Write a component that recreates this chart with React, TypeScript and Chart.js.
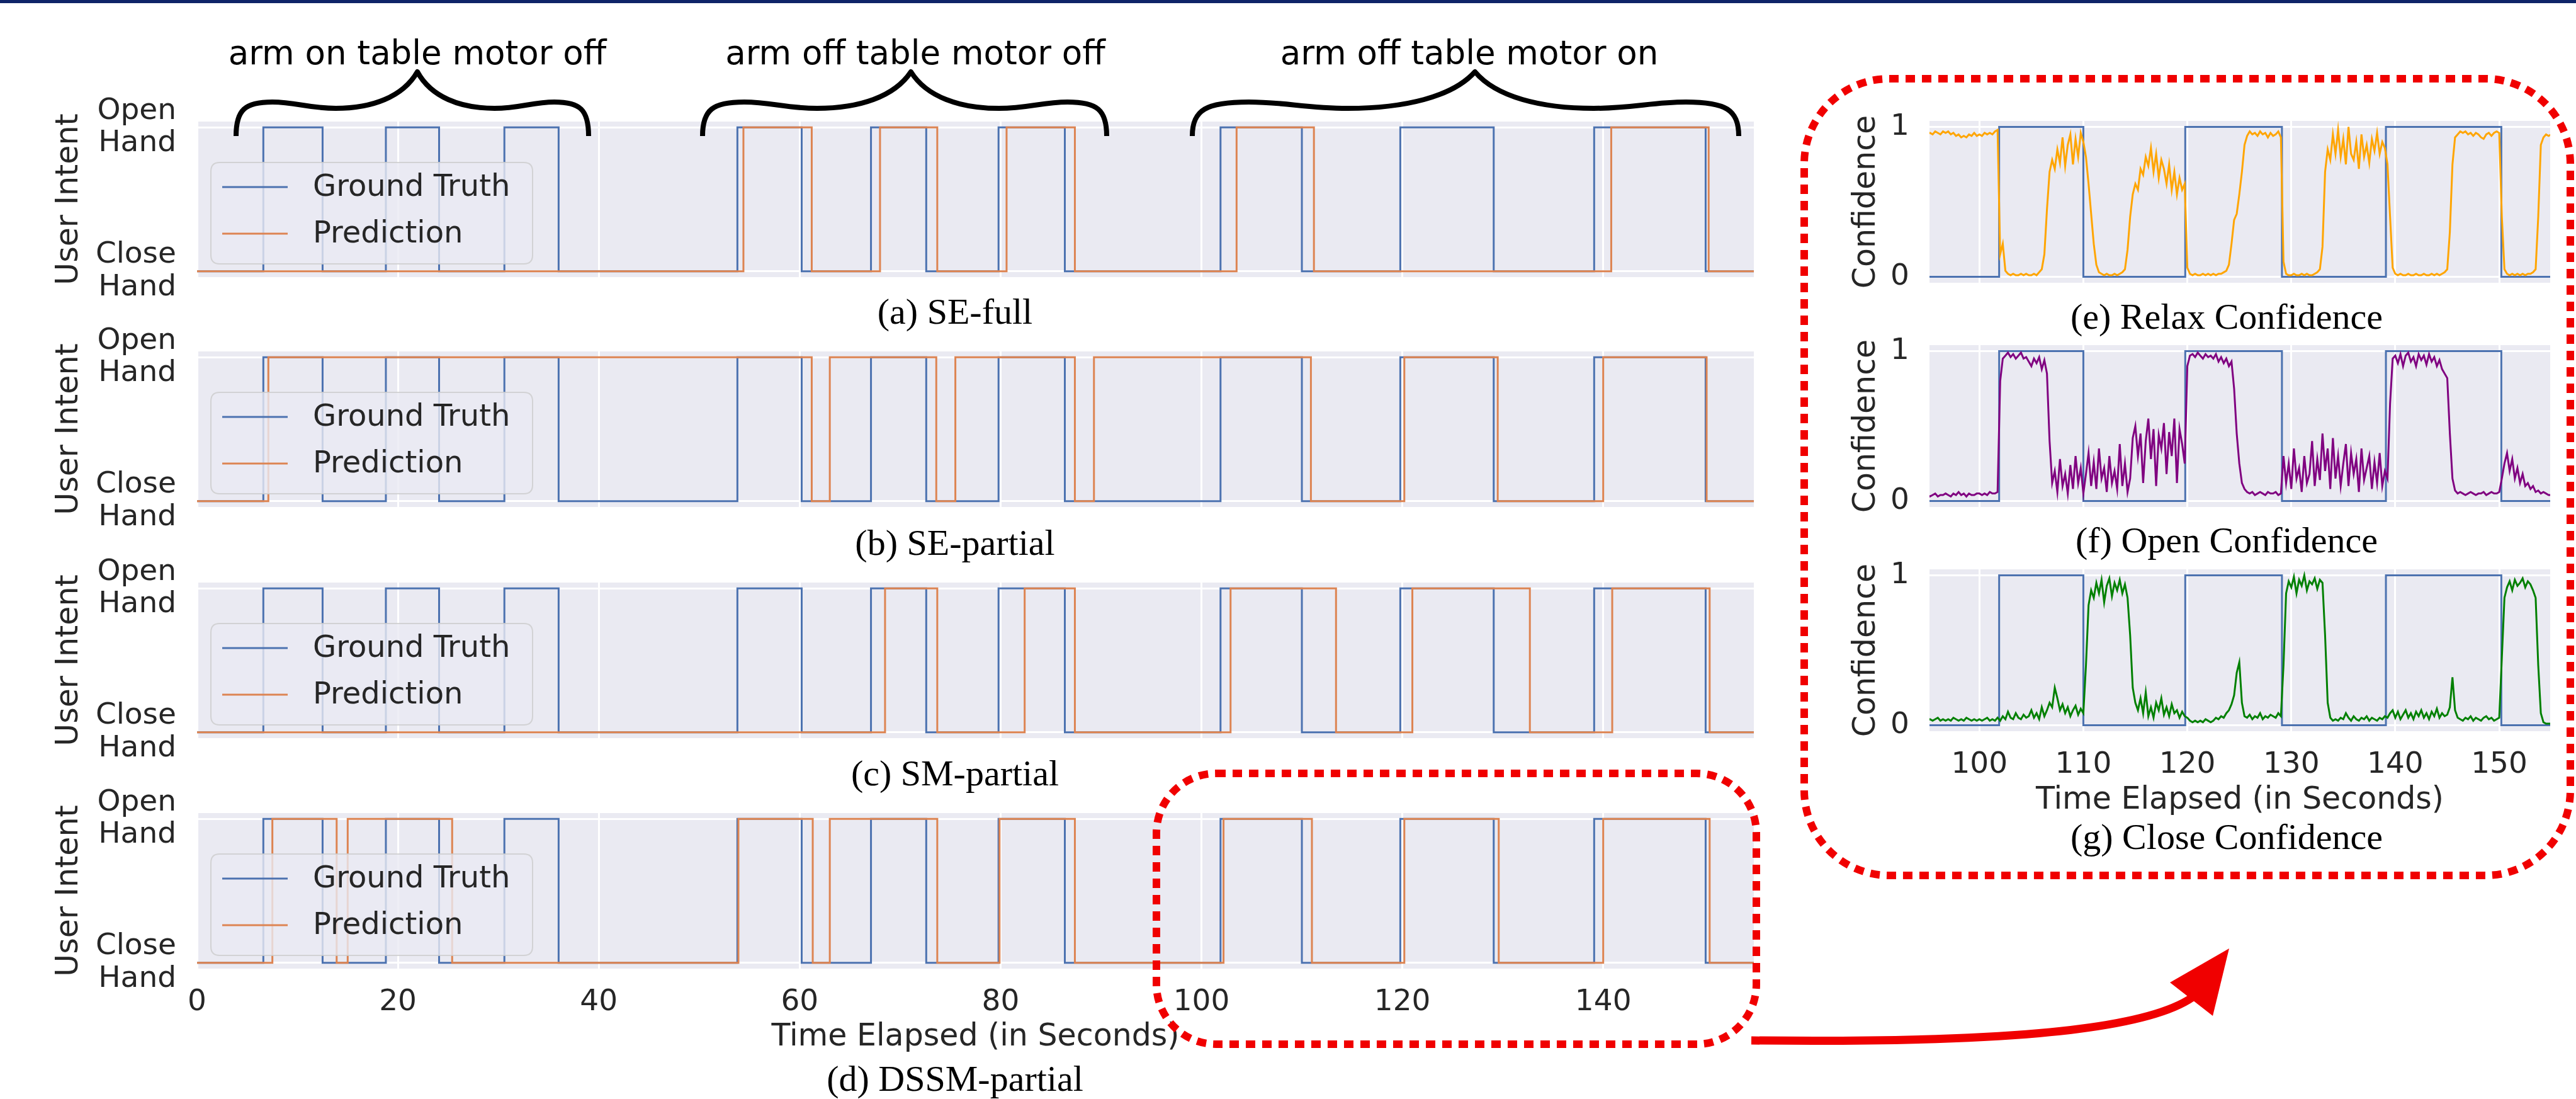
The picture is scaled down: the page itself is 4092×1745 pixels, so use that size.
import React, { useEffect, useRef } from 'react';
import { Chart, registerables } from 'chart.js';

Chart.register(...registerables);

const SANS = "'DejaVu Sans', sans-serif";
const SERIF = "'Liberation Serif', 'DejaVu Serif', serif";
const TEXT = '#262626';
const BLUE = '#4C72B0';
const ORANGE = '#DD8452';

// ---------------- data ----------------
// switch times (seconds); every series starts at "Close Hand" (0) and toggles at each time
const groundTruthSwitches = [6.6, 12.5, 18.8, 24.1, 30.6, 36.0, 53.8, 60.2, 67.1, 72.6, 79.8, 86.4, 101.9, 110.0, 119.8, 129.1, 139.1, 150.2];
const seFullSwitches = [54.4, 61.2, 68.0, 73.7, 80.6, 87.4, 103.5, 111.2, 140.8, 150.5];
const sePartialSwitches = [7.1, 61.2, 63.0, 73.6, 75.5, 87.4, 89.3, 110.9, 120.2, 129.5, 140.0, 150.3];
const smPartialSwitches = [68.5, 73.7, 82.4, 87.4, 102.9, 113.4, 121.0, 132.7, 140.9, 150.6];
const dssmPartialSwitches = [7.5, 13.9, 15.0, 25.4, 53.9, 61.3, 63.0, 73.7, 79.9, 87.4, 102.2, 111.0, 120.2, 129.6, 140.0, 150.6];

const leftXTicks = [0, 20, 40, 60, 80, 100, 120, 140];
const leftXMin = 0;
const leftXMax = 155;
const intentTickValues = [0, 1];
const intentTickLabels = [['Close', 'Hand'], ['Open', 'Hand']];

const rightXTicks = [100, 110, 120, 130, 140, 150];
const rightXMin = 95.2;
const rightXMax = 154.9;
const confTickValues = [0, 1];
const confTickLabels = ['0', '1'];

// confidence samples every 0.25 s from 95.0 s to 155.0 s (one row = 5 s)
const confStartTime = 95.0;
const confStep = 0.25;
const relaxConfidence = [
  0.95, 0.96, 0.95, 0.97, 0.96, 0.95, 0.97, 0.96, 0.97, 0.95, 0.96, 0.94, 0.95, 0.93, 0.94, 0.93, 0.95, 0.94, 0.96, 0.94,
  0.95, 0.94, 0.96, 0.95, 0.96, 0.95, 0.97, 0.98, 0.15, 0.22, 0.04, 0.02, 0.01, 0.02, 0.01, 0.01, 0.02, 0.01, 0.02, 0.01,
  0.01, 0.02, 0.01, 0.03, 0.05, 0.15, 0.45, 0.70, 0.78, 0.72, 0.85, 0.76, 0.93, 0.74, 0.88, 0.95, 0.75, 0.92, 0.80, 0.96,
  0.90, 0.80, 0.62, 0.42, 0.22, 0.08, 0.03, 0.02, 0.01, 0.02, 0.01, 0.01, 0.02, 0.01, 0.02, 0.03, 0.05, 0.18, 0.40, 0.55,
  0.62, 0.58, 0.72, 0.68, 0.80, 0.74, 0.86, 0.70, 0.82, 0.66, 0.78, 0.72, 0.62, 0.75, 0.58, 0.70, 0.55, 0.66, 0.58, 0.62,
  0.06, 0.02, 0.01, 0.02, 0.01, 0.01, 0.02, 0.01, 0.02, 0.01, 0.02, 0.01, 0.02, 0.02, 0.03, 0.04, 0.08, 0.22, 0.38, 0.42,
  0.55, 0.70, 0.88, 0.94, 0.97, 0.95, 0.96, 0.94, 0.97, 0.95, 0.96, 0.93, 0.96, 0.94, 0.95, 0.97, 0.93, 0.10, 0.02, 0.01,
  0.01, 0.02, 0.01, 0.01, 0.02, 0.01, 0.02, 0.01, 0.01, 0.02, 0.03, 0.05, 0.20, 0.70, 0.85, 0.78, 0.95, 0.82, 0.98, 0.80,
  0.92, 0.75, 1.00, 0.82, 0.78, 0.90, 0.72, 0.95, 0.80, 0.88, 0.76, 0.92, 0.84, 0.96, 0.82, 0.90, 0.86, 0.75, 0.40, 0.06,
  0.02, 0.01, 0.02, 0.01, 0.01, 0.02, 0.01, 0.01, 0.02, 0.01, 0.01, 0.02, 0.01, 0.01, 0.02, 0.01, 0.02, 0.01, 0.02, 0.03,
  0.05, 0.30, 0.75, 0.93, 0.95, 0.97, 0.96, 0.97, 0.95, 0.96, 0.94, 0.96, 0.95, 0.93, 0.92, 0.95, 0.96, 0.94, 0.96, 0.97,
  0.96, 0.40, 0.05, 0.02, 0.01, 0.02, 0.01, 0.02, 0.01, 0.02, 0.01, 0.02, 0.02, 0.03, 0.05, 0.40, 0.88, 0.93, 0.95, 0.94,
  0.95,
];
const openConfidence = [
  0.04, 0.03, 0.04, 0.05, 0.03, 0.04, 0.04, 0.05, 0.04, 0.03, 0.05, 0.04, 0.06, 0.04, 0.05, 0.03, 0.05, 0.04, 0.04, 0.05,
  0.05, 0.04, 0.05, 0.04, 0.06, 0.05, 0.05, 0.06, 0.80, 0.95, 0.97, 0.99, 0.96, 0.98, 0.95, 0.97, 0.99, 0.95, 0.96, 0.93,
  0.90, 0.95, 0.92, 0.96, 0.88, 0.94, 0.85, 0.40, 0.12, 0.20, 0.06, 0.28, 0.10, 0.18, 0.05, 0.24, 0.08, 0.30, 0.12, 0.22,
  0.05, 0.18, 0.32, 0.10, 0.26, 0.08, 0.35, 0.15, 0.22, 0.06, 0.30, 0.12, 0.20, 0.08, 0.38, 0.10, 0.25, 0.06, 0.15, 0.42,
  0.50, 0.30, 0.45, 0.12, 0.40, 0.55, 0.28, 0.48, 0.10, 0.44, 0.35, 0.52, 0.18, 0.46, 0.30, 0.55, 0.12, 0.48, 0.38, 0.25,
  0.90, 0.97, 0.98, 0.96, 0.99, 0.97, 0.95, 0.98, 0.96, 0.97, 0.95, 0.98, 0.93, 0.96, 0.92, 0.95, 0.90, 0.93, 0.75, 0.45,
  0.25, 0.12, 0.08, 0.06, 0.05, 0.06, 0.04, 0.05, 0.06, 0.05, 0.04, 0.06, 0.05, 0.05, 0.06, 0.04, 0.05, 0.30, 0.12, 0.25,
  0.08, 0.35, 0.15, 0.22, 0.06, 0.30, 0.12, 0.18, 0.40, 0.10, 0.28, 0.14, 0.45, 0.20, 0.35, 0.08, 0.42, 0.15, 0.30, 0.10,
  0.25, 0.38, 0.10, 0.32, 0.18, 0.28, 0.06, 0.35, 0.14, 0.22, 0.30, 0.08, 0.26, 0.12, 0.32, 0.10, 0.20, 0.15, 0.65, 0.95,
  0.97, 0.92, 0.98, 0.90, 0.97, 0.99, 0.93, 0.96, 0.90, 0.98, 0.94, 0.97, 0.91, 0.98, 0.93, 0.96, 0.90, 0.94, 0.88, 0.85,
  0.82, 0.45, 0.15, 0.07, 0.05, 0.06, 0.05, 0.04, 0.05, 0.06, 0.05, 0.04, 0.05, 0.05, 0.06, 0.04, 0.05, 0.06, 0.05, 0.05,
  0.06, 0.15, 0.25, 0.32, 0.20, 0.28, 0.15, 0.22, 0.12, 0.18, 0.10, 0.12, 0.08, 0.10, 0.06, 0.07, 0.05, 0.06, 0.05, 0.04,
  0.04,
];
const closeConfidence = [
  0.03, 0.04, 0.03, 0.04, 0.05, 0.03, 0.04, 0.03, 0.04, 0.03, 0.05, 0.04, 0.03, 0.04, 0.03, 0.05, 0.04, 0.03, 0.04, 0.03,
  0.04, 0.03, 0.04, 0.05, 0.03, 0.04, 0.03, 0.05, 0.03, 0.06, 0.04, 0.09, 0.05, 0.04, 0.08, 0.05, 0.04, 0.07, 0.05, 0.06,
  0.10, 0.05, 0.08, 0.04, 0.12, 0.06, 0.10, 0.15, 0.12, 0.25, 0.18, 0.10, 0.14, 0.08, 0.12, 0.06, 0.10, 0.13, 0.07, 0.11,
  0.08, 0.40, 0.80, 0.90, 0.85, 0.95, 0.88, 0.97, 0.82, 0.93, 0.98, 0.86, 0.95, 0.90, 0.97, 0.88, 0.94, 0.85, 0.60, 0.25,
  0.15, 0.10, 0.18, 0.08, 0.22, 0.06, 0.12, 0.05, 0.15, 0.10, 0.18, 0.07, 0.12, 0.06, 0.14, 0.08, 0.10, 0.05, 0.09, 0.06,
  0.05, 0.03, 0.02, 0.03, 0.02, 0.03, 0.02, 0.04, 0.03, 0.02, 0.03, 0.05, 0.04, 0.06, 0.05, 0.08, 0.10, 0.14, 0.20, 0.35,
  0.42, 0.15, 0.06, 0.05, 0.07, 0.04, 0.06, 0.05, 0.08, 0.04, 0.06, 0.05, 0.07, 0.06, 0.05, 0.08, 0.06, 0.40, 0.88, 0.96,
  0.92, 0.99, 0.88, 0.97, 0.93, 1.00, 0.90, 0.96, 0.94, 0.98, 0.91, 0.97, 0.95, 0.60, 0.15, 0.05, 0.03, 0.04, 0.03, 0.05,
  0.04, 0.08, 0.05, 0.03, 0.06, 0.04, 0.03, 0.05, 0.04, 0.06, 0.03, 0.05, 0.04, 0.03, 0.05, 0.04, 0.06, 0.05, 0.08, 0.10,
  0.05, 0.09, 0.04, 0.07, 0.10, 0.05, 0.08, 0.04, 0.09, 0.06, 0.10, 0.05, 0.08, 0.04, 0.09, 0.06, 0.11, 0.05, 0.08, 0.06,
  0.07, 0.12, 0.32, 0.10, 0.05, 0.04, 0.03, 0.05, 0.04, 0.06, 0.03, 0.05, 0.04, 0.03, 0.05, 0.06, 0.04, 0.05, 0.03, 0.04,
  0.05, 0.45, 0.85, 0.92, 0.96, 0.90, 0.97, 0.93, 0.95, 0.98, 0.92, 0.96, 0.94, 0.90, 0.85, 0.40, 0.08, 0.02, 0.01, 0.01,
  0.01,
];

const annotationLabels = ['arm on table motor off', 'arm off table motor off', 'arm off table motor on'];
const leftCaptions = ['(a) SE-full', '(b) SE-partial', '(c) SM-partial', '(d) DSSM-partial'];
const rightCaptions = ['(e) Relax Confidence', '(f) Open Confidence', '(g) Close Confidence'];

// ---------------- helpers ----------------
function stepPoints(switches: number[], start: number, end: number) {
  const pts: { x: number; y: number }[] = [{ x: start, y: 0 }];
  let v = 0;
  for (const t of switches) {
    pts.push({ x: t, y: v });
    v = 1 - v;
    pts.push({ x: t, y: v });
  }
  pts.push({ x: end, y: v });
  return pts;
}

function confPoints(vals: number[]) {
  return vals.map((v, i) => ({ x: confStartTime + i * confStep, y: v }));
}

const bgPlugin = {
  id: 'axesBg',
  beforeDraw(chart: any) {
    const { ctx, chartArea } = chart;
    ctx.save();
    ctx.fillStyle = '#EAEAF2';
    ctx.fillRect(chartArea.left, chartArea.top, chartArea.right - chartArea.left, chartArea.bottom - chartArea.top);
    ctx.restore();
  },
};

const innerLegendPlugin = {
  id: 'innerLegend',
  afterDatasetsDraw(chart: any) {
    const { ctx, chartArea } = chart;
    const x0 = chartArea.left + 22;
    const y0 = chartArea.top + 65;
    const w = 511;
    const h = 161;
    const r = 14;
    ctx.save();
    ctx.beginPath();
    ctx.moveTo(x0 + r, y0);
    ctx.lineTo(x0 + w - r, y0);
    ctx.quadraticCurveTo(x0 + w, y0, x0 + w, y0 + r);
    ctx.lineTo(x0 + w, y0 + h - r);
    ctx.quadraticCurveTo(x0 + w, y0 + h, x0 + w - r, y0 + h);
    ctx.lineTo(x0 + r, y0 + h);
    ctx.quadraticCurveTo(x0, y0 + h, x0, y0 + h - r);
    ctx.lineTo(x0, y0 + r);
    ctx.quadraticCurveTo(x0, y0, x0 + r, y0);
    ctx.closePath();
    ctx.globalAlpha = 0.8;
    ctx.fillStyle = '#EAEAF2';
    ctx.fill();
    ctx.lineWidth = 2;
    ctx.strokeStyle = '#CCCCCC';
    ctx.stroke();
    ctx.globalAlpha = 1;
    const items = [...chart.data.datasets].reverse();
    items.forEach((ds: any, i: number) => {
      const ly = y0 + 39 + i * 74;
      ctx.beginPath();
      ctx.strokeStyle = ds.borderColor;
      ctx.lineWidth = 3;
      ctx.moveTo(chartArea.left + 40, ly);
      ctx.lineTo(chartArea.left + 144, ly);
      ctx.stroke();
      ctx.fillStyle = TEXT;
      ctx.font = `48px ${SANS}`;
      ctx.textBaseline = 'middle';
      ctx.textAlign = 'left';
      ctx.fillText(ds.label, chartArea.left + 184, ly + 2);
    });
    ctx.restore();
  },
};

function makeOptions(p: {
  xMin: number; xMax: number; xTicks: number[]; yTickValues: number[]; yTickLabels: any[];
  yTitle: string; yTitlePad: number; yw: number; xh: number; showX: boolean; xTitlePad: number;
  yLabelPad: number; padT: number; padB: number; padR: number;
}) {
  return {
    responsive: false,
    animation: false as const,
    events: [] as any[],
    layout: { padding: { top: p.padT, right: p.padR, bottom: p.padB, left: 0 } },
    plugins: { legend: { display: false }, tooltip: { enabled: false } },
    scales: {
      x: {
        type: 'linear' as const,
        min: p.xMin,
        max: p.xMax,
        afterBuildTicks: (s: any) => { s.ticks = p.xTicks.map((v) => ({ value: v })); },
        afterFit: (s: any) => { s.height = p.xh; s.paddingLeft = 0; s.paddingRight = 0; s.paddingTop = 0; s.paddingBottom = 0; },
        grid: { color: '#FFFFFF', lineWidth: 3, drawTicks: false },
        border: { display: false },
        ticks: { display: p.showX, padding: 26, color: TEXT, font: { family: SANS, size: 47 }, maxRotation: 0, autoSkip: false },
        title: { display: p.showX, text: 'Time Elapsed (in Seconds)', color: TEXT, font: { family: SANS, size: 49, lineHeight: 1.2 }, padding: { top: 0, bottom: p.xTitlePad } },
      },
      y: {
        type: 'linear' as const,
        min: -0.04,
        max: 1.04,
        afterBuildTicks: (s: any) => { s.ticks = p.yTickValues.map((v) => ({ value: v })); },
        afterFit: (s: any) => { s.width = p.yw; s.paddingTop = 0; s.paddingBottom = 0; s.paddingLeft = 0; s.paddingRight = 0; },
        grid: { color: '#FFFFFF', lineWidth: 3, drawTicks: false },
        border: { display: false },
        ticks: {
          padding: p.yLabelPad,
          color: TEXT,
          font: { family: SANS, size: 47, lineHeight: 1.1 },
          callback: (v: any) => p.yTickLabels[p.yTickValues.indexOf(Number(v))],
        },
        title: { display: true, text: p.yTitle, color: TEXT, font: { family: SANS, size: 49, lineHeight: 1.2 }, padding: { top: p.yTitlePad, bottom: 0 } },
      },
    },
  };
}

type Panel = { left: number; top: number; width: number; height: number; config: () => any };

function ChartCanvas({ panel }: { panel: Panel }) {
  const ref = useRef<HTMLCanvasElement>(null);
  useEffect(() => {
    const chart = new Chart(ref.current as HTMLCanvasElement, panel.config());
    return () => chart.destroy();
  }, []);
  return (
    <canvas
      ref={ref}
      width={panel.width}
      height={panel.height}
      style={{ position: 'absolute', left: panel.left, top: panel.top, width: panel.width, height: panel.height }}
    />
  );
}

// ---------------- layout ----------------
const LEFT_PLOT_L = 313;
const LEFT_PLOT_R = 2786;
const LEFT_BG_H = 247;
const leftTops = [193, 558, 925, 1291];
const leftPreds = [seFullSwitches, sePartialSwitches, smPartialSwitches, dssmPartialSwitches];

const RIGHT_CANVAS_L = 2900;
const RIGHT_PLOT_L = 3065;
const RIGHT_PLOT_R = 4051;
const RIGHT_BG_H = 257;
const rightTops = [191.5, 547.5, 904];
const rightSeries = [relaxConfidence, openConfidence, closeConfidence];
const rightColors = ['#FFA500', '#800080', '#008000'];

const panels: Panel[] = [];
leftTops.forEach((bgTop, i) => {
  const last = i === leftTops.length - 1;
  const padT = 70;
  const xh = last ? 145 : 0;
  const padB = last ? 0 : 50;
  const padR = 4;
  panels.push({
    left: 0,
    top: bgTop - padT,
    width: LEFT_PLOT_R + padR,
    height: padT + LEFT_BG_H + xh + padB,
    config: () => ({
      type: 'line',
      data: {
        datasets: [
          { label: 'Prediction', data: stepPoints(leftPreds[i], leftXMin, leftXMax), borderColor: ORANGE, borderWidth: 3, pointRadius: 0, order: 0, borderJoinStyle: 'miter' },
          { label: 'Ground Truth', data: stepPoints(groundTruthSwitches, leftXMin, leftXMax), borderColor: BLUE, borderWidth: 3, pointRadius: 0, order: 1, borderJoinStyle: 'miter' },
        ],
      },
      options: makeOptions({
        xMin: leftXMin, xMax: leftXMax, xTicks: leftXTicks, yTickValues: intentTickValues, yTickLabels: intentTickLabels,
        yTitle: 'User Intent', yTitlePad: 80.6, yw: LEFT_PLOT_L, xh, showX: last, xTitlePad: 6.6, yLabelPad: 33,
        padT, padB, padR,
      }),
      plugins: [bgPlugin, innerLegendPlugin],
    }),
  });
});
rightTops.forEach((bgTop, i) => {
  const last = i === rightTops.length - 1;
  const padT = 50;
  const xh = last ? 145 : 0;
  const padB = last ? 0 : 40;
  panels.push({
    left: RIGHT_CANVAS_L,
    top: bgTop - padT,
    width: RIGHT_PLOT_R - RIGHT_CANVAS_L,
    height: padT + RIGHT_BG_H + xh + padB,
    config: () => ({
      type: 'line',
      data: {
        datasets: [
          { label: 'Confidence', data: confPoints(rightSeries[i]), borderColor: rightColors[i], borderWidth: 3, pointRadius: 0, order: 0 },
          { label: 'Ground Truth', data: stepPoints(groundTruthSwitches, confStartTime, 155), borderColor: BLUE, borderWidth: 3, pointRadius: 0, order: 1, borderJoinStyle: 'miter' },
        ],
      },
      options: makeOptions({
        xMin: rightXMin, xMax: rightXMax, xTicks: rightXTicks, yTickValues: confTickValues, yTickLabels: confTickLabels,
        yTitle: 'Confidence', yTitlePad: 35.6, yw: RIGHT_PLOT_L - RIGHT_CANVAS_L, xh, showX: last, xTitlePad: 5.6, yLabelPad: 32,
        padT, padB, padR: 0,
      }),
      plugins: [bgPlugin],
    }),
  });
});

const leftCaptionY = [495, 862, 1228, 1713];
const rightCaptionY = [503, 858, 1329];

function bracePath(L: number, C: number, R: number, yb: number, ym: number, yt: number) {
  const wl = C - L;
  const wr = R - C;
  return [
    `M ${L} ${yb}`,
    `C ${L} ${ym + 8}, ${L + 0.05 * wl} ${ym - 4}, ${L + 0.2 * wl} ${ym - 4}`,
    `C ${L + 0.33 * wl} ${ym - 4}, ${L + 0.4 * wl} ${ym + 6}, ${L + 0.55 * wl} ${ym + 6}`,
    `C ${L + 0.75 * wl} ${ym + 6}, ${C - 0.08 * wl} ${ym - 12}, ${C} ${yt}`,
    `C ${C + 0.08 * wr} ${ym - 12}, ${R - 0.75 * wr} ${ym + 6}, ${R - 0.55 * wr} ${ym + 6}`,
    `C ${R - 0.4 * wr} ${ym + 6}, ${R - 0.33 * wr} ${ym - 4}, ${R - 0.2 * wr} ${ym - 4}`,
    `C ${R - 0.05 * wr} ${ym - 4}, ${R} ${ym + 8}, ${R} ${yb}`,
  ].join(' ');
}

const braces = [
  { L: 375, C: 663, R: 935, tx: 663 },
  { L: 1116, C: 1447, R: 1758, tx: 1454 },
  { L: 1894, C: 2343, R: 2762, tx: 2334 },
];

export default function App() {
  return (
    <div style={{ position: 'absolute', left: 0, top: 0, width: 4092, height: 1745, background: '#FFFFFF', overflow: 'hidden' }}>
      <div style={{ position: 'absolute', left: 0, top: 0, width: 4092, height: 5, background: '#0E2468' }} />
      {panels.map((p, i) => (
        <ChartCanvas key={i} panel={p} />
      ))}
      {leftCaptions.map((c, i) => (
        <div key={c} style={{ position: 'absolute', left: 1517, top: leftCaptionY[i], transform: 'translate(-50%, -50%)', fontFamily: SERIF, fontSize: 58, lineHeight: 1, whiteSpace: 'nowrap', color: '#000' }}>{c}</div>
      ))}
      {rightCaptions.map((c, i) => (
        <div key={c} style={{ position: 'absolute', left: 3537, top: rightCaptionY[i], transform: 'translate(-50%, -50%)', fontFamily: SERIF, fontSize: 58, lineHeight: 1, whiteSpace: 'nowrap', color: '#000' }}>{c}</div>
      ))}
      <svg width={4092} height={1745} style={{ position: 'absolute', left: 0, top: 0, pointerEvents: 'none' }}>
        {braces.map((b, i) => (
          <g key={i}>
            <text x={b.tx} y={102} textAnchor="middle" fontFamily="DejaVu Sans" fontSize={53} fill="#000">{annotationLabels[i]}</text>
            <path d={bracePath(b.L, b.C, b.R, 216, 166, 114)} fill="none" stroke="#000" strokeWidth={8} strokeLinejoin="round" />
          </g>
        ))}
        <rect x={1837} y={1228} width={953} height={430} rx={95} ry={95} fill="none" stroke="#F00000" strokeWidth={12} strokeDasharray="15 11" />
        <rect x={2866} y={125} width={1217} height={1265} rx={135} ry={135} fill="none" stroke="#F00000" strokeWidth={12} strokeDasharray="15 11" />
        <path d="M 2782 1652 C 3150 1656, 3400 1640, 3482 1584" fill="none" stroke="#F00000" strokeWidth={13} />
        <polygon points="3541,1506 3515,1613 3447,1560" fill="#F00000" />
      </svg>
    </div>
  );
}
